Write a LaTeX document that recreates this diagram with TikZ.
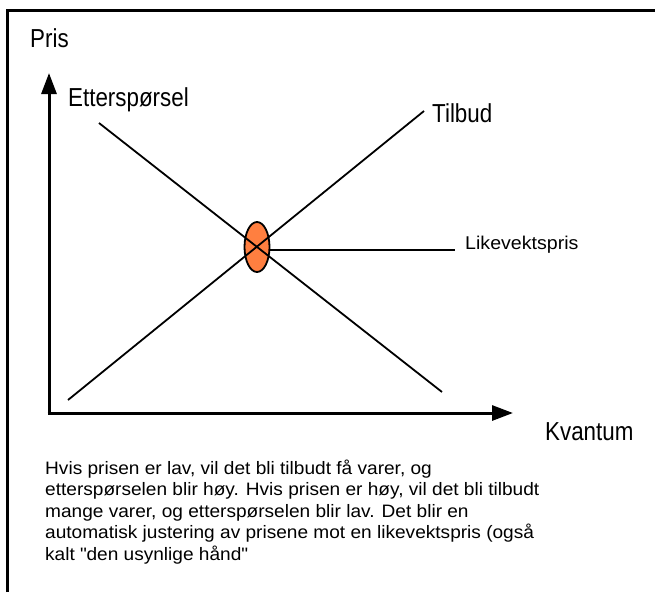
\documentclass[tikz,border=0pt]{standalone}
\usepackage{fontspec}
\setmainfont{Liberation Sans}
\newfontfamily\mylabelfont[FakeStretch=0.86]{Liberation Sans}
\newfontfamily\mybodyfont[FakeStretch=1.06]{Liberation Sans}
\usetikzlibrary{arrows.meta,shapes.geometric}
\definecolor{eqorange}{RGB}{255,127,64}
\begin{document}
\begin{tikzpicture}[x=1pt,y=-1pt,
  axis/.style={line width=3pt,-{Triangle[length=21pt,width=15pt]}},
  curve/.style={line width=1.8pt},
  biglabel/.style={font=\mylabelfont\fontsize{26}{30}\selectfont,inner sep=0pt,anchor=base west},
  smalllabel/.style={font=\mybodyfont\fontsize{18.5}{22}\selectfont,inner sep=0pt,anchor=base west}]
\useasboundingbox (0,0) rectangle (655,592);
\fill[white] (0,0) rectangle (655,592);
% frame
\draw[line width=3pt] (7,592) -- (7,10) -- (655,10);
% axes
\coordinate (O) at (49,413);
\coordinate (ytip) at (49,73);
\coordinate (xtip) at (513,413);
\draw[axis] (O) ++(0,1.5) -- (ytip);
\draw[axis] (O) ++(-1.5,0) -- (xtip);
% equilibrium
\node[draw,line width=1.8pt,fill=eqorange,ellipse,minimum width=25pt,minimum height=50pt,inner sep=0pt] (eq) at (257,247) {};
% curves
\coordinate (d1) at (99,123);
\coordinate (d2) at (442,392);
\coordinate (s1) at (68,400);
\coordinate (s2) at (424,111);
\draw[curve] (d1) -- (d2);
\draw[curve] (s1) -- (s2);
\node[smalllabel] (lik) at (465,249) {Likevektspris};
\draw[line width=1.5pt] (eq.east |- 0,250) -- (455,250) coordinate (le);
% labels
\node[biglabel] (pris) at (30,47) {Pris};
\node[biglabel] (ett) at (68,106) {Etterspørsel};
\node[biglabel] (til) at (432,122) {Tilbud};
\node[biglabel] (kv) at (545,440) {Kvantum};
\node[font=\mybodyfont\fontsize{18}{21.6}\selectfont,inner sep=0pt,anchor=base west,align=left] (txt) at (45,560.4)
 {Hvis prisen er lav, vil det bli tilbudt få varer, og\\
  etterspørselen blir høy. Hvis prisen er høy, vil det bli tilbudt\\
  mange varer, og etterspørselen blir lav. Det blir en\\
  automatisk justering av prisene mot en likevektspris (også\\
  kalt \textquotedbl den usynlige hånd\textquotedbl};
\end{tikzpicture}
\end{document}
